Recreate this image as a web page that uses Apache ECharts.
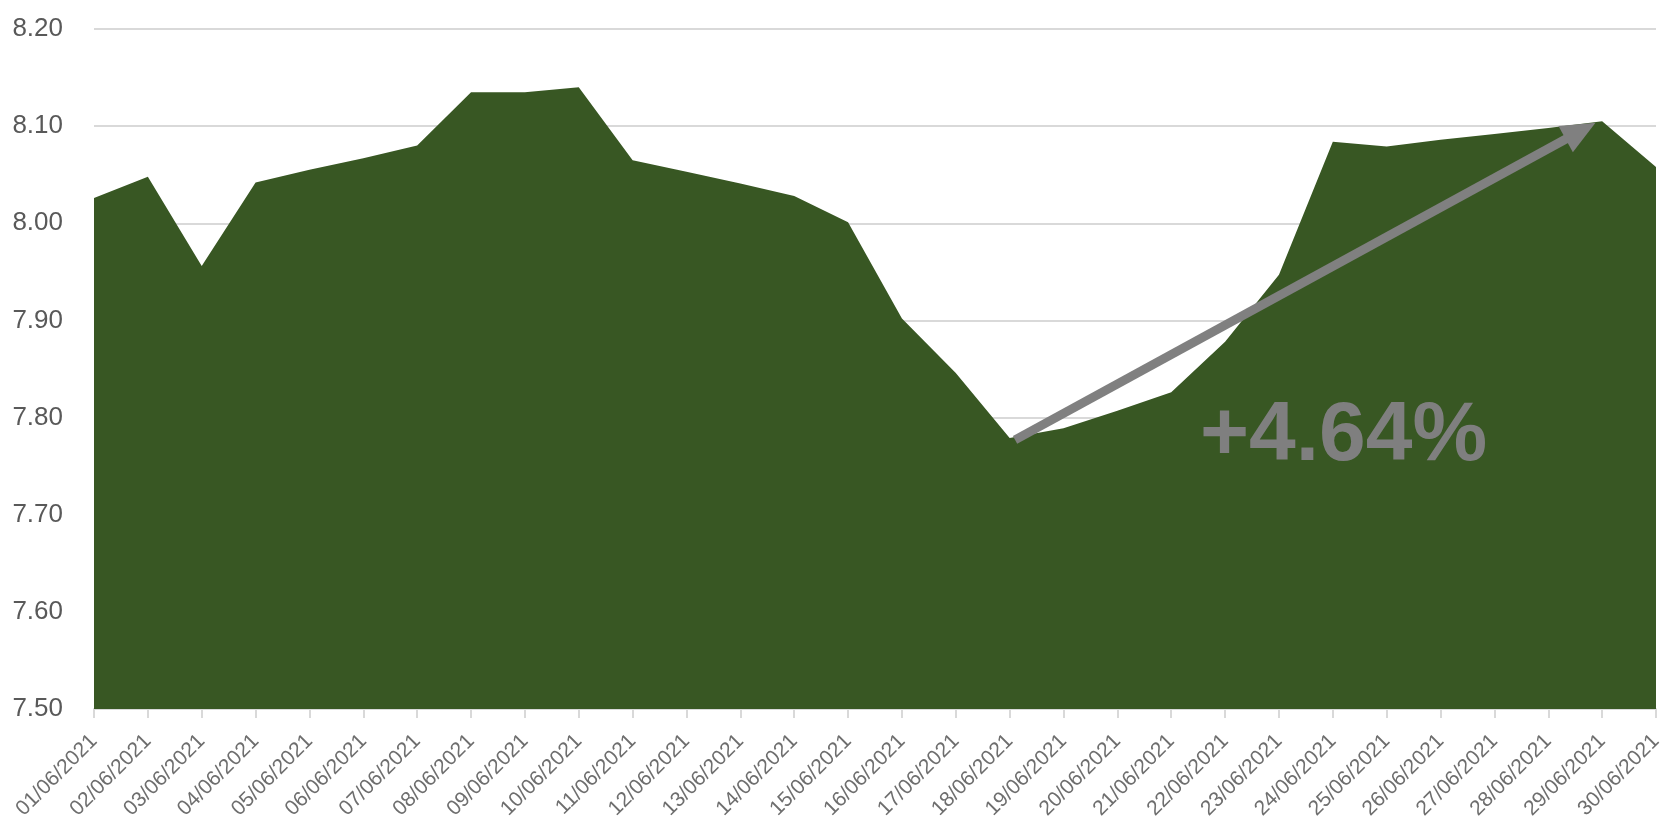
<!DOCTYPE html>
<html>
<head>
<meta charset="utf-8">
<script src="https://cdn.jsdelivr.net/npm/echarts@6/dist/echarts.min.js"></script>
<style>
html,body{margin:0;padding:0;background:#fff;}
#chart{width:1678px;height:823px;}
</style>
</head>
<body>
<div id="chart"></div>
<script>
const categories = [
  '01/06/2021','02/06/2021','03/06/2021','04/06/2021','05/06/2021','06/06/2021',
  '07/06/2021','08/06/2021','09/06/2021','10/06/2021','11/06/2021','12/06/2021',
  '13/06/2021','14/06/2021','15/06/2021','16/06/2021','17/06/2021','18/06/2021',
  '19/06/2021','20/06/2021','21/06/2021','22/06/2021','23/06/2021','24/06/2021',
  '25/06/2021','26/06/2021','27/06/2021','28/06/2021','29/06/2021','30/06/2021'
];
const values = [
  8.026, 8.048, 7.956, 8.042, 8.055, 8.067,
  8.080, 8.135, 8.135, 8.140, 8.065, 8.053,
  8.041, 8.028, 8.001, 7.902, 7.846, 7.779,
  7.789, 7.807, 7.826, 7.878, 7.947, 8.084,
  8.079, 8.086, 8.092, 8.098, 8.105, 8.058
];
// arrow annotation endpoints (day index from 0, value)
const arrowStart = [17.1, 7.777];
const arrowEnd = [27.6, 8.095];
const annotationText = '+4.64%';

const chart = echarts.init(document.getElementById('chart'), null, {renderer: 'canvas'});
const FONT = '"Liberation Sans", Arial, sans-serif';
chart.setOption({
  animation: false,
  backgroundColor: '#ffffff',
  grid: {left: 94, right: 22, top: 29, bottom: 114, containLabel: false},
  xAxis: [{
    type: 'category',
    data: categories,
    boundaryGap: false,
    axisLine: {show: true, lineStyle: {color: '#d9d9d9', width: 2}},
    axisTick: {show: true, alignWithLabel: true, length: 9, lineStyle: {color: '#d9d9d9', width: 2}},
    axisLabel: {
      rotate: 45, interval: 0, margin: 29,
      color: '#6e6e6e', fontFamily: FONT, fontSize: 21
    },
    splitLine: {show: false}
  }, {
    type: 'value',
    min: 0, max: categories.length - 1,
    show: false
  }],
  yAxis: {
    type: 'value',
    min: 7.5, max: 8.2, interval: 0.1,
    axisLine: {show: false},
    axisTick: {show: false},
    axisLabel: {
      margin: 31, color: '#595959', fontFamily: FONT, fontSize: 26,
      formatter: v => v.toFixed(2)
    },
    splitLine: {show: true, lineStyle: {color: '#d9d9d9', width: 2}}
  },
  series: [{
    type: 'line',
    data: values,
    symbol: 'none',
    lineStyle: {width: 0, color: '#385723'},
    areaStyle: {color: '#385723', opacity: 1, origin: 'start'},
    z: 2
  }, {
    type: 'line',
    xAxisIndex: 1,
    data: [arrowStart, arrowEnd],
    symbol: 'none',
    lineStyle: {width: 0, opacity: 0},
    z: 5,
    markLine: {
      silent: true,
      symbol: ['none', 'triangle'],
      symbolSize: [30, 34],
      label: {show: false},
      lineStyle: {color: '#808080', width: 9, type: 'solid', cap: 'butt'},
      data: [[{coord: arrowStart}, {coord: arrowEnd}]],
      z: 5
    }
  }],
  graphic: [{
    type: 'text',
    left: 1200, top: 395,
    z: 10,
    style: {
      text: annotationText,
      fill: '#7f7f7f',
      font: 'bold 84px "Liberation Sans", Arial, sans-serif'
    }
  }]
});
</script>
</body>
</html>
